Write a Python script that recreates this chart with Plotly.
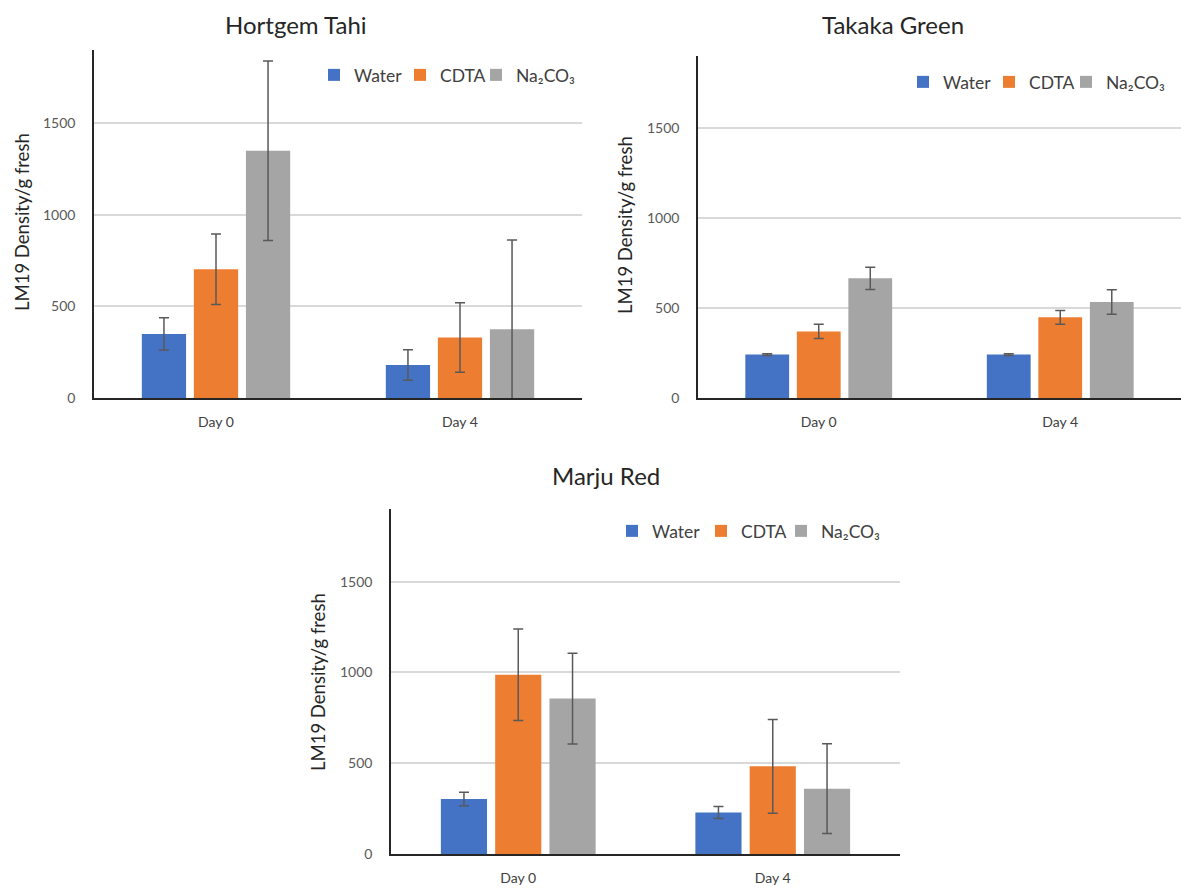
import plotly.graph_objects as go

categories = ["Day 0", "Day 4"]
series_names = ["Water", "CDTA", "Na₂CO₃"]
colors = ["#4472C4", "#ED7D31", "#A5A5A5"]

# Hortgem Tahi
hortgem_water = [350, 180]
hortgem_water_err = [88, 83]
hortgem_cdta = [703, 330]
hortgem_cdta_err = [193, 190]
hortgem_na = [1350, 375]
hortgem_na_err = [490, 487]

# Takaka Green
takaka_water = [241, 241]
takaka_water_err = [5, 5]
takaka_cdta = [370, 448]
takaka_cdta_err = [40, 38]
takaka_na = [665, 533]
takaka_na_err = [62, 68]

# Marju Red
marju_water = [303, 229]
marju_water_err = [37, 33]
marju_cdta = [987, 483]
marju_cdta_err = [252, 258]
marju_na = [856, 360]
marju_na_err = [250, 247]

y_ticks = [0, 500, 1000, 1500]
titles = ["Hortgem Tahi", "Takaka Green", "Marju Red"]
y_title = "LM19 Density/g fresh"

FONT = "Lato, 'Open Sans', sans-serif"
W, H = 1181, 888

panels = [
    (titles[0], [(hortgem_water, hortgem_water_err), (hortgem_cdta, hortgem_cdta_err), (hortgem_na, hortgem_na_err)]),
    (titles[1], [(takaka_water, takaka_water_err), (takaka_cdta, takaka_cdta_err), (takaka_na, takaka_na_err)]),
    (titles[2], [(marju_water, marju_water_err), (marju_cdta, marju_cdta_err), (marju_na, marju_na_err)]),
]

def px_x(v):
    return v / W

def px_y(v):
    return 1 - v / H

# legend swatch left edges (px) and vertical centres per panel
legend_swatch_x = [[329, 415, 491], [918, 1004, 1081], [627, 716, 796]]
legend_y = [75, 82, 531]

fig = go.Figure()
axis_ids = ["", "2", "3"]
layout = dict(
    width=W, height=H,
    margin=dict(l=0, r=0, t=0, b=0, autoexpand=False),
    paper_bgcolor="white", plot_bgcolor="white",
    font=dict(family=FONT, color="#404040"),
    barmode="group", bargap=0.36, bargroupgap=0.15,
)
k = 0
for p, (title, series) in enumerate(panels):
    for i, (vals, errs) in enumerate(series):
        k += 1
        lid = "legend" if k == 1 else "legend%d" % k
        fig.add_trace(go.Bar(
            x=categories, y=vals, name=series_names[i],
            marker=dict(color=colors[i], line=dict(width=0)),
            error_y=dict(type="data", array=errs, visible=True, color="#595959", thickness=1.5, width=5),
            xaxis="x" + axis_ids[p], yaxis="y" + axis_ids[p],
            legend=lid, showlegend=True,
        ))
        layout[lid] = dict(
            x=px_x(legend_swatch_x[p][i] - 15), y=px_y(legend_y[p]),
            xanchor="left", yanchor="middle", orientation="h",
            bgcolor="rgba(0,0,0,0)", itemwidth=30, itemclick=False,
            font=dict(size=17.5, color="#404040", family=FONT),
        )

x_domains = [[px_x(94), px_x(582)], [px_x(698), 1.0], [px_x(391), px_x(900)]]
y_domains = [[px_y(398), px_y(50)], [px_y(398), px_y(56)], [px_y(854), px_y(509)]]

for p in range(3):
    xa = "xaxis" + axis_ids[p]
    ya = "yaxis" + axis_ids[p]
    layout[xa] = dict(
        domain=x_domains[p], anchor="y" + axis_ids[p], automargin=False,
        showline=True, linecolor="#262626", linewidth=1.5,
        showgrid=False, ticks="", ticklabelstandoff=10,
        tickfont=dict(size=14, color="#404040", family=FONT),
        fixedrange=True,
    )
    layout[ya] = dict(
        domain=y_domains[p], anchor="x" + axis_ids[p], automargin=False,
        range=[0, 1900], tickvals=y_ticks,
        showline=True, linecolor="#262626", linewidth=1.5,
        showgrid=True, gridcolor="#D9D9D9", gridwidth=1.5,
        zeroline=False, ticks="", ticklabelstandoff=14,
        tickfont=dict(size=14, color="#595959", family=FONT),
    )

fig.update_layout(**layout)

title_pos = [(px_x(296), px_y(25)), (px_x(893), px_y(25)), (px_x(606), px_y(475))]
ylab_pos = [(px_x(22), px_y(222)), (px_x(625), px_y(225)), (px_x(318), px_y(682))]
for p in range(3):
    fig.add_annotation(text=titles[p], x=title_pos[p][0], y=title_pos[p][1], xref="paper", yref="paper",
                       xanchor="center", yanchor="middle", showarrow=False,
                       font=dict(size=24, color="#262626", family=FONT))
    fig.add_annotation(text=y_title, x=ylab_pos[p][0], y=ylab_pos[p][1], xref="paper", yref="paper",
                       xanchor="center", yanchor="middle", showarrow=False, textangle=-90,
                       font=dict(size=18.5, color="#262626", family=FONT))

fig.write_html("out.html")
